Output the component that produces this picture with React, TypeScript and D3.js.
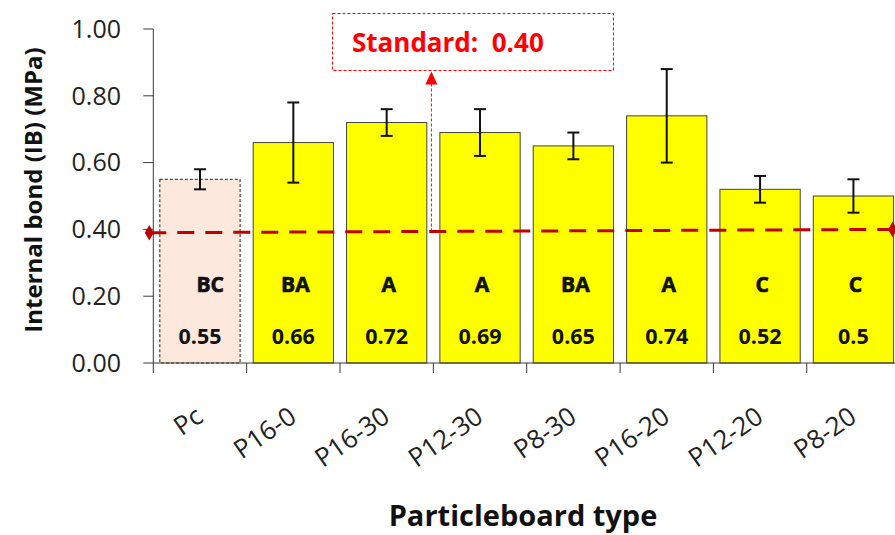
import React, { useEffect, useRef } from "react";
import * as d3 from "d3";

const categories = ["Pc", "P16-0", "P16-30", "P12-30", "P8-30", "P16-20", "P12-20", "P8-20"];
const ibMeans = [0.55, 0.66, 0.72, 0.69, 0.65, 0.74, 0.52, 0.5];
const ibErrors = [0.03, 0.12, 0.04, 0.07, 0.04, 0.14, 0.04, 0.05];
const groupLetters = ["   BC", "BA", "A", "A", "BA", "A", "C", "C"];
const valueLabels = ["0.55", "0.66", "0.72", "0.69", "0.65", "0.74", "0.52", "0.5"];
const yTicks = [0, 0.2, 0.4, 0.6, 0.8, 1.0];
const standardEnds = [0.39, 0.4];
const standardText = "Standard:  0.40";

const W = 895;
const H = 535;
const FONT = "'Open Sans', sans-serif";

export default function App() {
  const ref = useRef<SVGSVGElement>(null);

  useEffect(() => {
    const svg = d3.select(ref.current);
    svg.selectAll("*").remove();

    const left = 153.3;
    const top = 29;
    const bottom = 363;
    const bandW = 93.35;

    const x = d3
      .scaleBand()
      .domain(categories)
      .range([left, left + bandW * categories.length])
      .paddingInner(0.14)
      .paddingOuter(0.07);
    const y = d3.scaleLinear().domain([0, 1]).range([bottom, top]);

    const axisColor = "#3a3a3a";

    // bars
    svg
      .append("g")
      .selectAll("rect")
      .data(categories)
      .enter()
      .append("rect")
      .attr("x", (d) => x(d)!)
      .attr("y", (d, i) => y(ibMeans[i]))
      .attr("width", x.bandwidth())
      .attr("height", (d, i) => bottom - y(ibMeans[i]))
      .attr("fill", (d, i) => (i === 0 ? "#fce8dc" : "#ffff00"))
      .attr("stroke", (d, i) => (i === 0 ? "#222" : "#444"))
      .attr("stroke-width", 1)
      .attr("stroke-dasharray", (d, i) => (i === 0 ? "3,2" : null));

    // error bars
    const eb = svg.append("g").attr("stroke", "#111").attr("stroke-width", 2);
    categories.forEach((c, i) => {
      const cx = x(c)! + x.bandwidth() / 2;
      const y1 = y(ibMeans[i] + ibErrors[i]);
      const y2 = y(ibMeans[i] - ibErrors[i]);
      eb.append("line").attr("x1", cx).attr("x2", cx).attr("y1", y1).attr("y2", y2);
      eb.append("line").attr("x1", cx - 6).attr("x2", cx + 6).attr("y1", y1).attr("y2", y1);
      eb.append("line").attr("x1", cx - 6).attr("x2", cx + 6).attr("y1", y2).attr("y2", y2);
    });

    // letters and values inside bars
    svg
      .append("g")
      .selectAll("text.letter")
      .data(groupLetters)
      .enter()
      .append("text")
      .attr("x", (d, i) => x(categories[i])! + x.bandwidth() / 2 + 2)
      .attr("y", 292)
      .attr("text-anchor", "middle")
      .style("font-family", FONT)
      .style("font-weight", 700)
      .style("font-size", "21px")
      .style("white-space", "pre")
      .attr("fill", "#111")
      .attr("stroke", "#111")
      .attr("stroke-width", 0.7)
      .text((d) => d);

    svg
      .append("g")
      .selectAll("text.val")
      .data(valueLabels)
      .enter()
      .append("text")
      .attr("x", (d, i) => x(categories[i])! + x.bandwidth() / 2)
      .attr("y", 344)
      .attr("text-anchor", "middle")
      .style("font-family", FONT)
      .style("font-weight", 700)
      .style("font-size", "21.5px")
      .attr("fill", "#111")
      .text((d) => d);

    // standard line
    const sx0 = left - 4;
    const sx1 = x(categories[categories.length - 1])! + x.bandwidth() - 1;
    const std = svg.append("g");
    std
      .append("line")
      .attr("x1", sx0)
      .attr("x2", sx1)
      .attr("y1", y(standardEnds[0]))
      .attr("y2", y(standardEnds[1]))
      .attr("stroke", "#c00000")
      .attr("stroke-width", 3)
      .attr("stroke-dasharray", "17,11");
    [
      [sx0, y(standardEnds[0])],
      [sx1, y(standardEnds[1])],
    ].forEach(([px, py]) => {
      std
        .append("path")
        .attr("d", d3.symbol(d3.symbolDiamond, 70)()!)
        .attr("transform", `translate(${px},${py})`)
        .attr("fill", "#c00000");
    });

    // callout
    const boxX = 332.5;
    const boxY = 13.5;
    const boxW = 281;
    const boxH = 57;
    const ax = x(categories[3])! - 8.5;
    svg
      .append("rect")
      .attr("x", boxX)
      .attr("y", boxY)
      .attr("width", boxW)
      .attr("height", boxH)
      .attr("fill", "none")
      .attr("stroke", "#ff0000")
      .attr("stroke-width", 1)
      .attr("stroke-dasharray", "3,2");
    svg
      .append("text")
      .attr("x", 352)
      .attr("y", 52)
      .style("font-family", FONT)
      .style("font-weight", 700)
      .style("font-size", "26px")
      .style("white-space", "pre")
      .attr("fill", "#ff0000")
      .text(standardText);
    svg
      .append("line")
      .attr("x1", ax)
      .attr("x2", ax)
      .attr("y1", boxY + boxH + 13)
      .attr("y2", y(standardEnds[0] + 0.003))
      .attr("stroke", "#ff0000")
      .attr("stroke-width", 1)
      .attr("stroke-dasharray", "3,2");
    svg
      .append("path")
      .attr("d", `M${ax},${boxY + boxH + 1}L${ax - 6},${boxY + boxH + 14}L${ax + 6},${boxY + boxH + 14}Z`)
      .attr("fill", "#ff0000");

    // y axis
    const ya = svg.append("g").attr("stroke", axisColor);
    ya.append("line").attr("x1", left).attr("x2", left).attr("y1", top).attr("y2", bottom);
    yTicks.forEach((t) => {
      ya.append("line").attr("x1", left - 10).attr("x2", left).attr("y1", y(t)).attr("y2", y(t));
    });
    svg
      .append("g")
      .selectAll("text")
      .data(yTicks)
      .enter()
      .append("text")
      .attr("x", 121)
      .attr("y", (d) => y(d))
      .attr("dy", "0.35em")
      .attr("text-anchor", "end")
      .style("font-family", FONT)
      .style("font-size", "25px")
      .attr("fill", "#222")
      .text((d) => d3.format(".2f")(d));

    // x axis
    const xa = svg.append("g").attr("stroke", axisColor);
    xa.append("line").attr("x1", left).attr("x2", left + bandW * categories.length).attr("y1", bottom).attr("y2", bottom);
    d3.range(categories.length + 1).forEach((k) => {
      const tx = left + k * bandW;
      xa.append("line").attr("x1", tx).attr("x2", tx).attr("y1", bottom).attr("y2", bottom + 10);
    });
    svg
      .append("g")
      .selectAll("text")
      .data(categories)
      .enter()
      .append("text")
      .attr("transform", (d) => `translate(${x(d)! + x.bandwidth() / 2 - 6},${bottom + 42}) rotate(-35)`)
      .attr("text-anchor", "end")
      .attr("dy", "0.72em")
      .style("font-family", FONT)
      .style("font-size", "26px")
      .attr("fill", "#222")
      .text((d) => d);

    // titles
    svg
      .append("text")
      .attr("transform", `translate(42,190) rotate(-90)`)
      .attr("text-anchor", "middle")
      .style("font-family", FONT)
      .style("font-weight", 700)
      .style("font-size", "24px")
      .attr("fill", "#111")
      .text("Internal bond (IB) (MPa)");
    svg
      .append("text")
      .attr("x", 523)
      .attr("y", 526)
      .attr("text-anchor", "middle")
      .style("font-family", FONT)
      .style("font-weight", 700)
      .style("font-size", "29px")
      .attr("fill", "#111")
      .text("Particleboard type");
  }, []);

  return (
    <svg
      ref={ref}
      width={W}
      height={H}
      style={{ position: "absolute", left: 0, top: 0, background: "#fff", display: "block" }}
    />
  );
}
